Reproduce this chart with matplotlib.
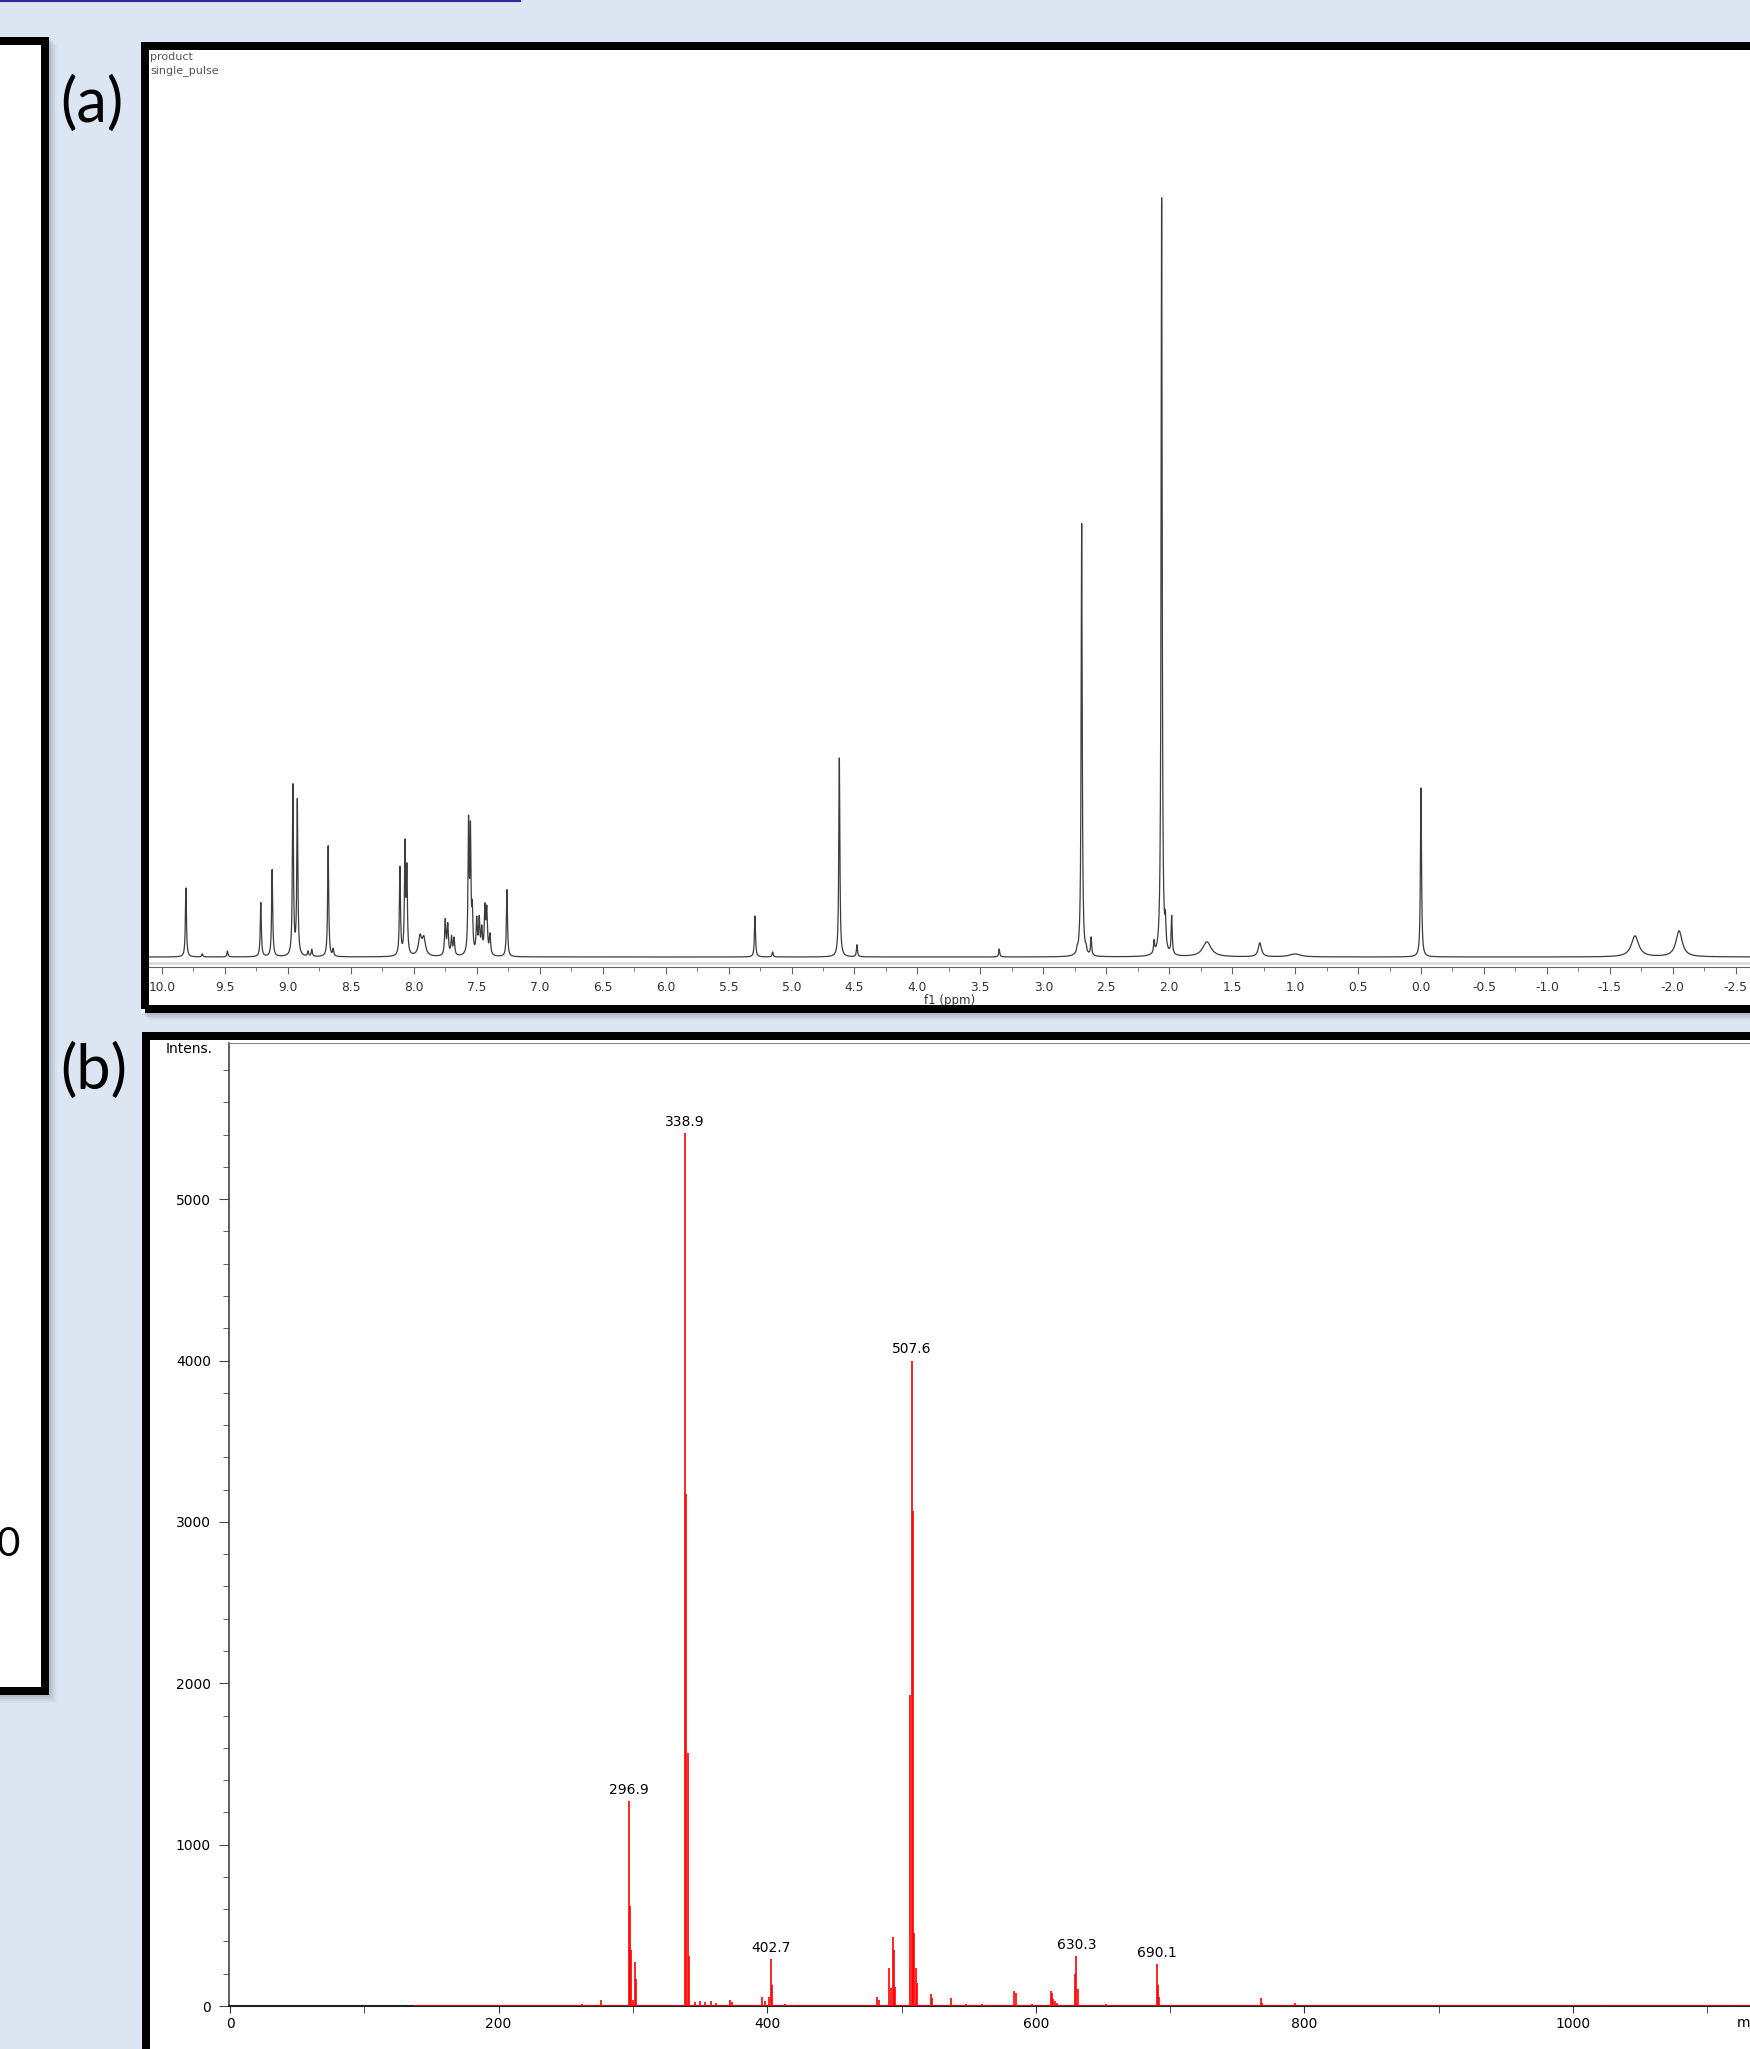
import numpy as np
import matplotlib.pyplot as plt
from matplotlib.patches import Rectangle
from matplotlib.lines import Line2D
from matplotlib.ticker import MultipleLocator

plt.rcParams['axes.unicode_minus'] = False

# (a) 1H NMR peaks: shift (ppm), height (arb.), half width (ppm)
nmr_ppm = [9.81, 9.68, 9.48, 9.215, 9.125, 8.96, 8.925, 8.84, 8.81, 8.68, 8.64,
           8.11, 8.07, 8.055, 7.95, 7.92, 7.75, 7.73, 7.70, 7.68, 7.565, 7.55, 7.535,
           7.50, 7.48, 7.46, 7.435, 7.42, 7.395, 7.26, 5.29, 5.15, 4.62, 4.48, 3.35,
           2.73, 2.695, 2.66, 2.62, 2.12, 2.06, 2.03, 1.98, 1.70, 1.28, 1.00, 0.00,
           -1.70, -2.05]
nmr_height = [69, 3, 6, 54, 87, 170, 155, 5, 7, 111, 7,
              88, 108, 82, 19, 17, 35, 30, 18, 17, 128, 118, 40,
              34, 34, 24, 45, 43, 20, 67, 41, 5, 199, 12, 8,
              4, 433, 5, 18, 12, 758, 26, 38, 15, 14, 3, 169,
              21, 26]
nmr_width = [0.005, 0.005, 0.005, 0.005, 0.005, 0.005, 0.005, 0.005, 0.005, 0.005, 0.005,
             0.005, 0.005, 0.005, 0.015, 0.015, 0.006, 0.006, 0.006, 0.006, 0.005, 0.005, 0.005,
             0.006, 0.006, 0.006, 0.006, 0.006, 0.006, 0.005, 0.005, 0.005, 0.005, 0.005, 0.005,
             0.005, 0.005, 0.005, 0.005, 0.005, 0.005, 0.005, 0.005, 0.04, 0.015, 0.05, 0.005,
             0.035, 0.03]

# (b) mass spectrum sticks: m/z, intensity
ms_mz = [262, 276, 296.9, 297.9, 298.9, 299.9, 301.5, 302.5, 338.9, 339.9, 340.9, 341.9,
         346, 350, 354, 358, 362, 372, 374, 396, 398, 401, 402.7, 403.7, 413,
         482, 483, 491, 492, 493.5, 494.5, 495.5, 506.6, 507.6, 508.6, 509.6, 510.6, 511.6,
         522, 523, 537, 548, 560, 584, 585, 597, 611, 612, 613, 614, 616,
         629.3, 630.3, 631.3, 652, 690.1, 691.1, 692.1, 767.5, 768.5, 793, 1024, 1103, 1117]
ms_int = [10, 37, 1271, 620, 350, 40, 270, 165, 5412, 3170, 1570, 310,
          25, 30, 25, 30, 20, 37, 25, 58, 30, 56, 291, 130, 10,
          58, 40, 234, 110, 426, 347, 120, 1930, 4000, 3070, 450, 234, 140,
          74, 48, 48, 10, 10, 90, 80, 10, 93, 80, 41, 31, 17,
          196, 310, 107, 10, 260, 128, 58, 48, 20, 20, 8, 8, 6]
ms_labels = [296.9, 338.9, 402.7, 507.6, 630.3, 690.1]
ms_base = [136, 1140]  # extent of the red baseline trace

W, H = 1750, 2049
fig = plt.figure(figsize=(W / 100, H / 100), dpi=100)
fig.patch.set_facecolor('#dce6f2')


def fx(x):
    return x / W


def fy(y):
    return 1 - y / H


def panel(x0, y0, x1, y1, bw=8):
    # soft drop shadow, white card, thick black border
    for k, a in [(8, 0.05), (6, 0.07), (4, 0.10), (2, 0.12)]:
        fig.add_artist(Rectangle((fx(x0 + k), fy(y1 + k)), (x1 - x0) / W, (y1 - y0) / H,
                                 transform=fig.transFigure, facecolor='#5a6272',
                                 edgecolor='none', alpha=a, zorder=-3))
    fig.add_artist(Rectangle((fx(x0), fy(y1)), (x1 - x0) / W, (y1 - y0) / H,
                             transform=fig.transFigure, facecolor='white',
                             edgecolor='none', zorder=-2))
    fig.add_artist(Rectangle((fx(x0 + bw / 2), fy(y1 - bw / 2)), (x1 - x0 - bw) / W,
                             (y1 - y0 - bw) / H, transform=fig.transFigure, fill=False,
                             edgecolor='black', linewidth=bw * 0.72, zorder=5))


fig.add_artist(Line2D([0, fx(520)], [fy(1), fy(1)], color='#2a2aa0', lw=1.5))

panel(-30, 37, 49, 1695)
panel(141, 42, 1790, 1013)
panel(142, 1032, 1790, 2090)

fig.text(fx(20), fy(1544), '0', family='Lato', fontsize=29, ha='right', va='center')
fig.text(fx(60), fy(104), '(a)', family='Lato', fontsize=44, ha='left', va='center')
fig.text(fx(60), fy(1071), '(b)', family='Lato', fontsize=44, ha='left', va='center')

# ---- (a) NMR ----
ax1 = fig.add_axes([fx(149), fy(967), (1750 - 149) / W, (967 - 49) / H])
ax1.set_facecolor('none')
x = np.arange(-2.7, 10.2, 0.0005)
y = np.zeros_like(x)
for p, h, w in zip(nmr_ppm, nmr_height, nmr_width):
    y += h * w ** 2 / ((x - p) ** 2 + w ** 2)
ax1.plot(x, y, color='#3c3c3c', lw=0.9)
ax1.axhline(-5.5, color='#dcdcdc', lw=2)
ax1.set_xlim(10 + 13 / 125.9, -329 / 125.9)
ax1.set_ylim(-10, 908)
for s in ['top', 'left', 'right']:
    ax1.spines[s].set_visible(False)
ax1.spines['bottom'].set_color('#666666')
ax1.spines['bottom'].set_linewidth(0.8)
ax1.set_yticks([])
ax1.xaxis.set_major_locator(MultipleLocator(0.5))
ax1.xaxis.set_minor_locator(MultipleLocator(0.25))
ax1.xaxis.set_major_formatter('{x:.1f}')
ax1.tick_params(axis='x', which='major', direction='out', length=5, color='#666666',
                labelsize=8.8, labelcolor='#333333', pad=5)
ax1.tick_params(axis='x', which='minor', direction='out', length=3, color='#666666')
ax1.set_xlabel('f1 (ppm)', fontsize=8.5, color='#333333', labelpad=0)
fig.text(fx(150), fy(57), 'product', fontsize=8, color='#555555', va='center')
fig.text(fx(150), fy(71), 'single_pulse', fontsize=8, color='#555555', va='center')

# ---- (b) MS ----
ms_font = 'DejaVu Sans'
ax2 = fig.add_axes([fx(229), fy(2006), (1750 - 229) / W, (2006 - 1043) / H])
ax2.set_facecolor('none')
ax2.hlines(0, ms_base[0], ms_base[1], color='red', lw=2, zorder=3)
ax2.vlines(ms_mz, 0, ms_int, color='red', lw=1.2, zorder=3)
for m in ms_labels:
    ax2.annotate(f'{m:.1f}', (m, ms_int[ms_mz.index(m)]), xytext=(0, 3),
                 textcoords='offset points', ha='center', va='bottom',
                 fontsize=10, family=ms_font)
ax2.set_xlim(-1 / 1.343, 1520 / 1.343)
ax2.set_ylim(0, 5968)
ax2.spines['right'].set_visible(False)
ax2.spines['left'].set_color('#444444')
ax2.spines['left'].set_linewidth(1.2)
ax2.spines['top'].set_color('#888888')
ax2.spines['top'].set_linewidth(0.8)
ax2.spines['bottom'].set_color('#222222')
ax2.spines['bottom'].set_linewidth(1.5)
ax2.xaxis.set_major_locator(MultipleLocator(200))
ax2.xaxis.set_minor_locator(MultipleLocator(100))
ax2.yaxis.set_major_locator(MultipleLocator(1000))
ax2.yaxis.set_minor_locator(MultipleLocator(200))
ax2.tick_params(axis='x', which='both', direction='out', length=5, color='#333333',
                labelsize=10, pad=3)
ax2.tick_params(axis='y', which='major', direction='out', length=7, color='#444444',
                labelsize=10, pad=6)
ax2.tick_params(axis='y', which='minor', direction='out', length=4, color='#444444')
for lab in ax2.get_xticklabels() + ax2.get_yticklabels():
    lab.set_family(ms_font)
fig.text(fx(166), fy(1049), 'Intens.', fontsize=10, family=ms_font, va='center')
fig.text(fx(1737), fy(2022), 'm/z', fontsize=10, family=ms_font, va='center')

fig.savefig('out.png', dpi=100, facecolor=fig.get_facecolor())
